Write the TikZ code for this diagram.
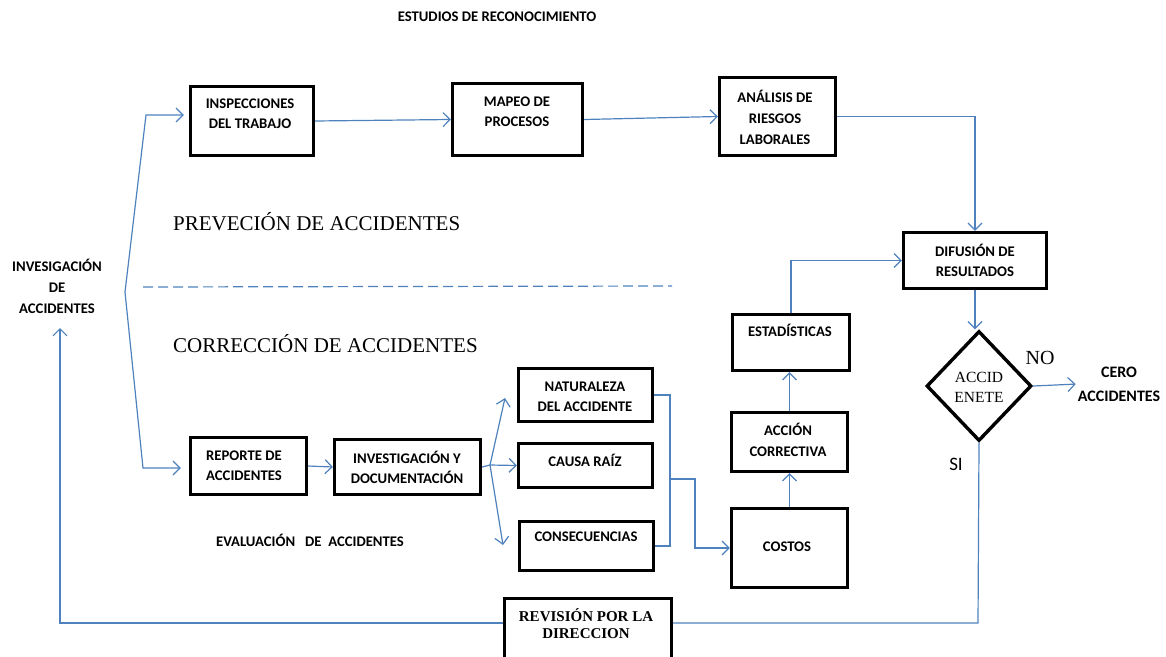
\documentclass[tikz,border=0pt]{standalone}
\usepackage{fontspec}
\setmainfont{Liberation Serif}
\newfontfamily\carl{Carlito}
\usetikzlibrary{arrows.meta,shapes.geometric}
\definecolor{lnblue}{HTML}{4F81BD}
\begin{document}
\begin{tikzpicture}[x=1pt,y=-1pt,
 box/.style={draw=black, line width=3.3pt, fill=white, inner sep=0pt, rectangle},
 btxt/.style={font=\carl\bfseries\fontsize{14.7}{20}\selectfont, align=center, inner sep=0pt, text=black},
 stxt/.style={font=\fontsize{21}{25}\selectfont, inner sep=0pt, anchor=west},
 conn/.style={draw=lnblue, line width=1.2pt},
 arr/.style={conn, -{Straight Barb[length=7pt,width=14pt,line width=1.2pt]}},
]
\useasboundingbox (0,0) rectangle (1166,656);
\clip (0,0) rectangle (1166,656);

% boxes
\node[box, minimum width=123, minimum height=69] (insp) at (252,121) {};
\node[box, minimum width=130, minimum height=72] (mapeo) at (517.5,119.5) {};
\node[box, minimum width=116, minimum height=78] (anal) at (777.5,116.5) {};
\node[box, minimum width=143, minimum height=56] (difu) at (975,260.5) {};
\node[box, minimum width=117, minimum height=56] (estad) at (791,342.5) {};
\node[box, minimum width=116, minimum height=59] (accion) at (789.5,442) {};
\node[box, minimum width=116, minimum height=79] (costos) at (789.5,548) {};
\node[box, minimum width=116, minimum height=57] (repo) at (248.5,466) {};
\node[box, minimum width=146, minimum height=55] (inves) at (407.5,467) {};
\node[box, minimum width=134, minimum height=53] (natu) at (585.5,395) {};
\node[box, minimum width=134, minimum height=44] (causa) at (585.5,465.5) {};
\node[box, minimum width=134, minimum height=49] (conse) at (586.5,546) {};
\node[box, minimum width=167, minimum height=65] (revi) at (588,631) {};
\node[draw=black, line width=3.4pt, fill=white, diamond, inner sep=0pt, minimum width=105, minimum height=110] (diam) at (979,386) {};

% box texts
\node[btxt] (inspT) at (250,114) {INSPECCIONES\\DEL TRABAJO};
\node[btxt] (mapeoT) at (517,112) {MAPEO DE\\PROCESOS};
\node[btxt, font=\carl\bfseries\fontsize{14.7}{21}\selectfont] (analT) at (775,117) {ANÁLISIS DE\\RIESGOS\\LABORALES};
\node[btxt] (difuT) at (975,260) {DIFUSIÓN DE\\RESULTADOS};
\node[btxt] (estadT) at (790,330) {ESTADÍSTICAS};
\node[btxt, font=\carl\bfseries\fontsize{14.7}{21}\selectfont] (accionT) at (788,440) {ACCIÓN\\CORRECTIVA};
\node[btxt] (costosT) at (787,547) {COSTOS};
\node[btxt, align=left] (repoT) at (244,466) {REPORTE DE\\ACCIDENTES};
\node[btxt] (invesT) at (407,467) {INVESTIGACIÓN Y\\DOCUMENTACIÓN};
\node[btxt] (natuT) at (585,397) {NATURALEZA\\DEL ACCIDENTE};
\node[btxt] (causaT) at (585,460) {CAUSA RAÍZ};
\node[btxt] (conseT) at (586,537) {CONSECUENCIAS};
\node[btxt, font=\bfseries\fontsize{15}{17}\selectfont] (reviT) at (586,624) {REVISIÓN POR LA\\DIRECCION};
\node[btxt, font=\fontsize{15.5}{20}\selectfont] (diamT) at (979,387) {ACCID\\ENETE};

% free texts
\node[btxt] (title) at (497,17) {ESTUDIOS DE RECONOCIMIENTO};
\node[btxt, font=\carl\bfseries\fontsize{14.7}{21}\selectfont] (invA) at (57,286) {INVESIGACIÓN\\DE\\ACCIDENTES};
\node[stxt] (prev) at (173,222) {PREVECIÓN DE ACCIDENTES};
\node[stxt] (corr) at (173,344) {CORRECCIÓN DE ACCIDENTES};
\node[btxt] (eval) at (310,540) {EVALUACIÓN\ \ \ DE\ \ ACCIDENTES};
\node[btxt, font=\carl\bfseries\fontsize{16}{24}\selectfont] (cero) at (1119,384) {CERO\\ACCIDENTES};
\node[inner sep=0pt, font=\fontsize{20}{24}\selectfont] (no) at (1040,358) {NO};
\node[inner sep=0pt, font=\carl\fontsize{19}{22}\selectfont] (si) at (956,464) {SI};

% coordinates
\coordinate (fk) at (125,292);
\coordinate (c1) at (146,115);
\coordinate (c2) at (143,468);
\coordinate (f2) at (490,465);
\coordinate (t1) at (505,398);
\coordinate (t3) at (503,545);
\coordinate (b1) at (670,479);
\coordinate (b2) at (695,479);
\coordinate (c6) at (978,623);
\coordinate (c4) at (60,623);
\coordinate (c5) at (60,328);
\coordinate (d1) at (143,287);
\coordinate (d2) at (672,286);

% dashed separator
\draw[conn, dash pattern=on 10pt off 5pt] (d1) -- (d2);

% connectors
\draw[arr, shorten >=5pt] (fk) -- (c1) -- (c1 -| insp.west);
\draw[arr, shorten >=8pt] (fk) -- (c2) -- (c2 -| repo.west);
\draw[arr] (insp.east) -- (mapeo.west);
\draw[arr] (mapeo.east) -- (anal.west);
\draw[arr] (anal.east) -| (difu.north);
\draw[arr] (estad.north) |- (difu.west);
\draw[arr] (accion.north) -- (accion.north |- estad.south);
\draw[arr] (costos.north) -- (accion.south);
\draw[arr] (difu.south) -- (difu.south |- diam.north);
\draw[arr, shorten >=2pt] (diam.east) -- (cero.west);
\draw[conn] (diam.south) -- (c6) -- (c6 -| revi.east);
\draw[arr] (c6 -| revi.west) -- (c4) -- (c5);
\draw[arr] (repo.east) -- (inves.west);
\draw[conn] (inves.east) -- (f2);
\draw[arr] (f2) -- (t1);
\draw[arr] (f2) -- (causa.west);
\draw[arr] (f2) -- (t3);
\draw[conn] (natu.east) -| (conse.east -| b1) -- (conse.east);
\draw[arr] (b1) -- (b2) |- (costos.west);
\end{tikzpicture}
\end{document}
